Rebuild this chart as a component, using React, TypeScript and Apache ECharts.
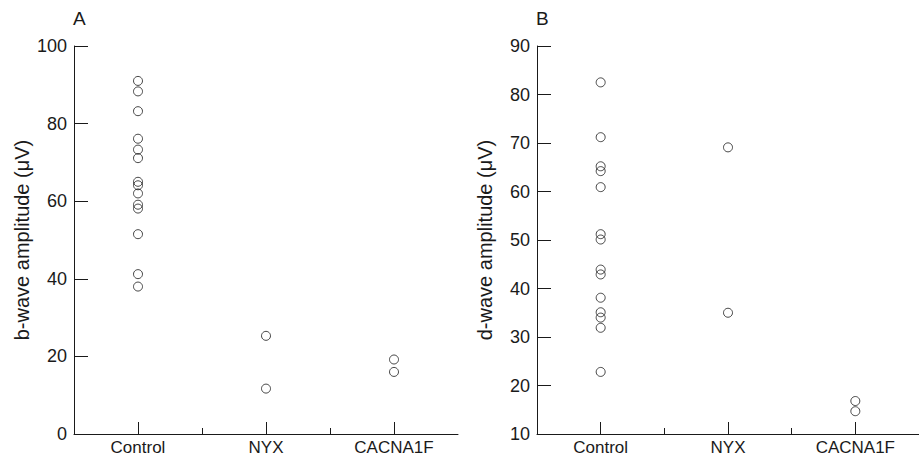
import React, { useEffect, useRef } from "react";
import * as echarts from "echarts";

const categories = ["Control", "NYX", "CACNA1F"];

// Panel A: b-wave amplitude (µV)
const bControl = [91, 88.3, 83.2, 76.1, 73.3, 71.1, 65, 64.1, 62, 59.1, 58.1, 51.5, 41.2, 38];
const bNYX = [25.3, 11.7];
const bCACNA1F = [19.2, 16];

// Panel B: d-wave amplitude (µV)
const dControl = [82.5, 71.2, 65.2, 64.2, 60.9, 51.2, 50.1, 43.9, 42.9, 38.1, 35.1, 34, 31.9, 22.8];
const dNYX = [69.1, 35];
const dCACNA1F = [16.8, 14.7];

const panelLabels = ["A", "B"];
const yNames = ["b-wave amplitude (\u03bcV)", "d-wave amplitude (\u03bcV)"];

const FONT = "'Liberation Sans', Arial, sans-serif";
const INK = "#1a1a1a";

function pairs(groups: number[][]) {
  const out: [string, number][] = [];
  groups.forEach((g, i) => g.forEach((v) => out.push([categories[i], v])));
  return out;
}

export default function App() {
  const ref = useRef<HTMLDivElement>(null);
  useEffect(() => {
    if (!ref.current) return;
    const chart = echarts.init(ref.current, null, { renderer: "svg" });

    const grids = [
      { left: 74, top: 46, right: 461, bottom: 23 },
      { left: 537, top: 46, right: -5, bottom: 23 },
    ];

    const catAxis = (gi: number) => ({
      type: "category",
      gridIndex: gi,
      position: "bottom",
      data: categories,
      boundaryGap: true,
      axisLine: { show: true, lineStyle: { color: INK, width: 1 } },
      axisTick: { show: true, inside: true, length: 12, alignWithLabel: true, lineStyle: { color: INK } },
      axisLabel: { show: true, margin: 5, color: INK, fontSize: 17, fontFamily: FONT },
      splitLine: { show: false },
    });
    const helperAxis = (gi: number) => ({
      type: "category",
      gridIndex: gi,
      position: "bottom",
      data: ["b0", "b1", "b2", "b3"],
      boundaryGap: false,
      axisLine: { show: false },
      axisTick: {
        show: true,
        inside: true,
        length: 6,
        interval: (i: number) => i === 1 || i === 2,
        lineStyle: { color: INK },
      },
      axisLabel: { show: false },
      splitLine: { show: false },
    });
    const yAxis = (gi: number, min: number, max: number, interval: number) => ({
      type: "value",
      gridIndex: gi,
      min,
      max,
      interval,
      name: yNames[gi],
      nameLocation: "middle",
      nameGap: 42,
      nameTextStyle: { fontSize: 20, color: INK, fontFamily: FONT },
      axisLine: { show: true, lineStyle: { color: INK, width: 1 } },
      axisTick: { show: true, inside: true, length: 14, lineStyle: { color: INK } },
      axisLabel: { margin: 7, color: INK, fontSize: 18, fontFamily: FONT },
      splitLine: { show: false },
    });

    const scatter = (xi: number, yi: number, data: [string, number][]) => ({
      type: "scatter",
      xAxisIndex: xi,
      yAxisIndex: yi,
      symbol: "circle",
      symbolSize: 9,
      itemStyle: { color: "transparent", borderColor: INK, borderWidth: 1 },
      data,
    });

    chart.setOption({
      animation: false,
      backgroundColor: "#ffffff",
      textStyle: { fontFamily: FONT },
      title: [
        { text: panelLabels[0], left: 73, top: 9, padding: 0, textStyle: { fontSize: 19, fontWeight: "normal", color: INK, fontFamily: FONT } },
        { text: panelLabels[1], left: 536, top: 9, padding: 0, textStyle: { fontSize: 19, fontWeight: "normal", color: INK, fontFamily: FONT } },
      ],
      grid: grids,
      xAxis: [catAxis(0), helperAxis(0), catAxis(1), helperAxis(1)],
      yAxis: [yAxis(0, 0, 100, 20), yAxis(1, 10, 90, 10)],
      series: [
        scatter(0, 0, pairs([bControl, bNYX, bCACNA1F])),
        scatter(2, 1, pairs([dControl, dNYX, dCACNA1F])),
      ],
    });
    return () => chart.dispose();
  }, []);
  return (
    <div
      ref={ref}
      style={{ position: "absolute", left: 0, top: 0, width: 919, height: 457 }}
    />
  );
}
